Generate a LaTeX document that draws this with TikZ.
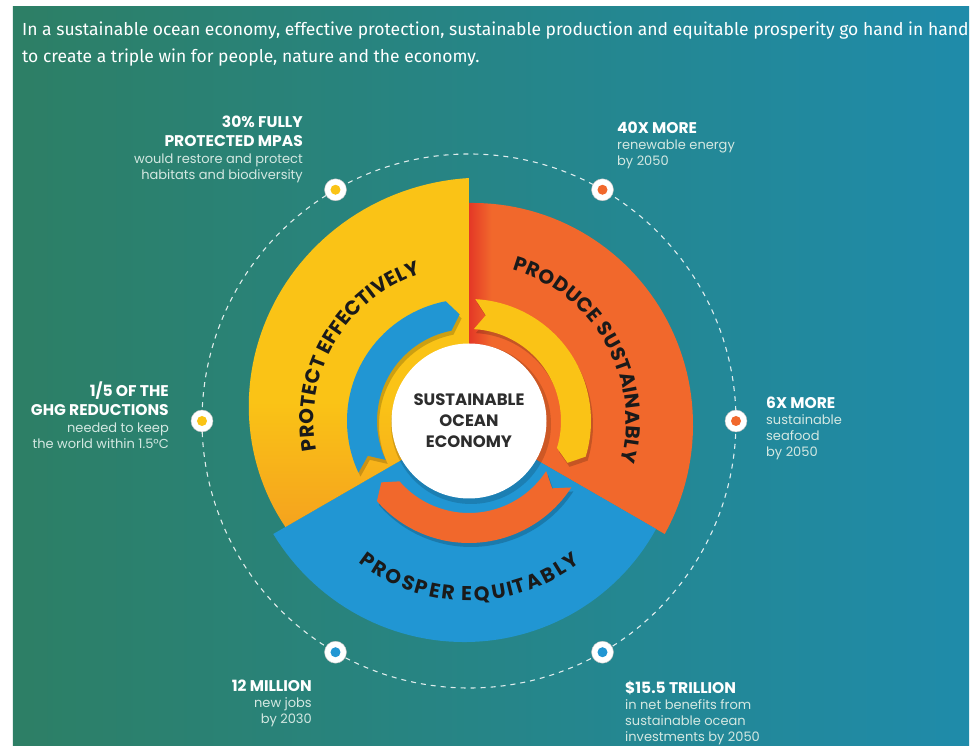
\documentclass[tikz,border=0pt]{standalone}
\usepackage{fontspec}
\setmainfont{Poppins}
\newfontfamily\headfont{Fira Sans}
\usepackage{tikz}
\usetikzlibrary{decorations.text}

\definecolor{seagreen}{RGB}{45,127,101}
\definecolor{seablue}{RGB}{31,139,170}
\definecolor{sunyellow}{RGB}{250,195,22}
\definecolor{sundeep}{RGB}{245,163,30}
\definecolor{coral}{RGB}{241,104,44}
\definecolor{coraledge}{RGB}{228,56,38}
\definecolor{wave}{RGB}{33,150,211}
\definecolor{ink}{RGB}{26,26,26}
\definecolor{coreink}{RGB}{45,45,45}
\definecolor{subtext}{RGB}{212,232,226}

% soft edges where one slice tucks under the next
\pgfdeclarehorizontalshading{coralshade}{100bp}{color(0bp)=(coraledge); color(25bp)=(coraledge); color(30bp)=(coral); color(100bp)=(coral)}
\pgfdeclareverticalshading{sunshade}{100bp}{color(0bp)=(sundeep); color(25bp)=(sundeep); color(43bp)=(sunyellow); color(100bp)=(sunyellow)}

% slice from the centre: angles #1..#2, outer radius running #3..#4
\newcommand{\pieslice}[5]{%
  \path[#5] (0,0) -- plot[domain=#1:#2, samples=60] (\x:{#3+(#4-#3)*(\x-#1)/(#2-#1)}) -- cycle;}

% clockwise band arrow: tail at #1, tip at #2
\newcommand{\cyclearrow}[3]{%
  \fill[black, opacity=.18, shift={(2,-4)}] (#1:122) arc[start angle=#1, end angle={#2+6}, radius=122]
    -- ({#2}:107) -- ({#2+6}:92) arc[start angle={#2+6}, end angle=#1, radius=92] -- ({#1-6}:107) -- cycle;
  \fill[#3] (#1:122) arc[start angle=#1, end angle={#2+6}, radius=122]
    -- ({#2}:107) -- ({#2+6}:92) arc[start angle={#2+6}, end angle=#1, radius=92] -- ({#1-6}:107) -- cycle;}

\newcommand{\stathead}[1]{{\color{white}\bfseries\fontsize{15.5}{19}\selectfont #1}}

\begin{document}
\begin{tikzpicture}[x=1pt, y=1pt,
    stat/.style={text=subtext, inner sep=0pt, font=\fontsize{13}{16}\selectfont},
    statdot/.style={circle, fill=white, draw=black!25, line width=.4pt, minimum size=22pt, inner sep=0pt,
      path picture={\fill[#1] (path picture bounding box.center) circle (5pt);}},
    core/.style={circle, fill=white, minimum size=155pt, inner sep=0pt, align=center, text=coreink,
      font=\bfseries\fontsize{16.5}{21}\selectfont},
    ringtitle/.style={decorate, decoration={text effects along path, text={#1},
      text effects/.cd, text along path, fit text to path,
      characters={text=ink, font=\bfseries\fontsize{20}{20}\selectfont}}}]
  \useasboundingbox (-469,-325) rectangle (503,421);
  \fill[white] (-469,-325) rectangle (503,421);
  \shade[left color=seagreen, right color=seablue] (-456,-325) rectangle (500,414);

  % intro line
  \node[anchor=base west, text=white, align=left, inner sep=0pt,
    font=\headfont\fontsize{17.5}{27}\selectfont] (intro) at (-447,358)
    {In a sustainable ocean economy, effective protection, sustainable production and equitable prosperity go hand in hand\\
     to create a triple win for people, nature and the economy.};

  % outer dashed orbit
  \draw[white, opacity=.85, line width=1.1pt, dash pattern=on 5pt off 5pt] (0,0) circle (267);

  % three slices
  \pieslice{-30}{90}{226}{218}{shade, shading=coralshade}
  \pieslice{-150}{-30}{226}{216}{fill=wave}
  \pieslice{90}{210}{243}{212}{shade, shading=sunshade}

  % arrows going round
  \cyclearrow{205}{95}{wave}
  \cyclearrow{87}{-23}{sunyellow}
  \cyclearrow{-33}{-145}{coral}

  % slice titles
  \path[ringtitle={PROTECT EFFECTIVELY}] (191:155) arc[start angle=191, end angle=108, radius=155];
  \path[ringtitle={PRODUCE SUSTAINABLY}] (74:157) arc[start angle=74, end angle=-15, radius=157];
  \path[ringtitle={PROSPER EQUITABLY}] (232:180) arc[start angle=232, end angle=308, radius=180];

  % centre
  \fill[black, opacity=.15] (2,-3) circle (80);
  \node[core] (core) at (0,0) {SUSTAINABLE\\OCEAN\\ECONOMY};

  % markers on the orbit
  \node[statdot=sunyellow] (dotmpa) at (120:267) {};
  \node[statdot=coral] (dotenergy) at (60:267) {};
  \node[statdot=sunyellow] (dotghg) at (180:267) {};
  \node[statdot=coral] (dotseafood) at (0:267) {};
  \node[statdot=wave] (dotjobs) at (240:267) {};
  \node[statdot=wave] (dotbenefit) at (300:267) {};

  % figures
  \node[stat, anchor=north east, align=right] (mpa) at (-166,305)
    {\stathead{30\% FULLY}\\[3pt]\stathead{PROTECTED MPAS}\\[1pt]would restore and protect\\habitats and biodiversity};
  \node[stat, anchor=north west, align=left] (energy) at (148,299)
    {\stathead{40X MORE}\\renewable energy\\by 2050};
  \node[stat, anchor=north east, align=right] (ghg) at (-300,39)
    {\stathead{1/5 OF THE}\\[3pt]\stathead{GHG REDUCTIONS}\\[1pt]needed to keep\\the world within 1.5°C};
  \node[stat, anchor=north west, align=left] (seafood) at (297,24)
    {\stathead{6X MORE}\\sustainable\\seafood\\by 2050};
  \node[stat, anchor=north east, align=right] (jobs) at (-157,-259)
    {\stathead{12 MILLION}\\new jobs\\by 2030};
  \node[stat, anchor=north west, align=left] (benefit) at (156,-260)
    {\stathead{\$15.5 TRILLION}\\in net benefits from\\sustainable ocean\\investments by 2050};
\end{tikzpicture}
\end{document}
